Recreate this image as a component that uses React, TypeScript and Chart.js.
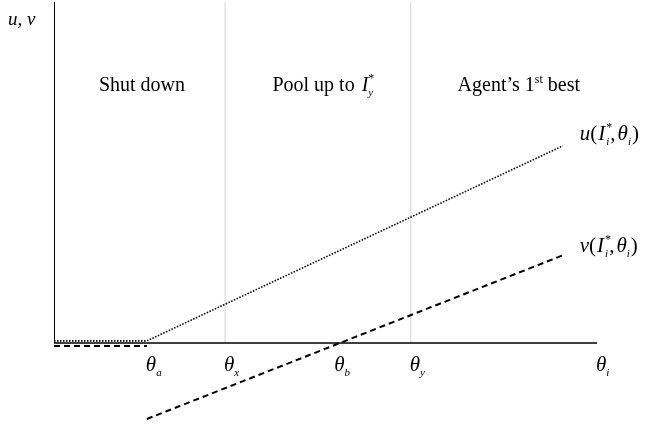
import React, { useEffect, useRef } from "react";
import { Chart, registerables } from "chart.js";

Chart.register(...registerables);

// Key positions on the θ axis (data units, 0..10)
const thetaA = 1.71;
const thetaX = 3.15;
const thetaB = 5.27;
const thetaY = 6.57;
const lineEnd = 9.37;
const axisEnd = 10;

// u(I*_i, θ_i): flat at zero, then rising from θa
const uX = [0, thetaA, lineEnd];
const uY = [0.06, 0.06, 5.78];
// v(I*_i, θ_i): flat part (shut down) and rising part crossing zero at θb
const vFlatX = [0, thetaA];
const vFlatY = [-0.09, -0.09];
const vX = [thetaA, lineEnd];
const vY = [-2.23, 2.57];

// Axes and region boundaries
const yAxisX = [0, 0];
const yAxisY = [0, 10];
const xAxisX = [0, axisEnd];
const xAxisY = [0, 0];
const boundaryX = [thetaX, thetaY];
const boundaryTop = 10;

// Labels
const tickPositions = [thetaA, thetaX, thetaB, thetaY, axisEnd];
const tickSubs = ["a", "x", "b", "y", "i"];
const regionNames = ["Shut down", "Pool up to", "Agent’s 1"];
const regionCenters = [1.62, 4.95, 8.56];
const regionBaseline = 7.39;
const yAxisTitle = "u, v";

const FONT = '"Liberation Serif", "Times New Roman", serif';

type Run = { t: string; it?: boolean; sz?: number; dy?: number; noAdv?: boolean; pad?: number };

function font(r: Run) {
  return `${r.it ? "italic " : ""}${r.sz || 20}px ${FONT}`;
}

function runsWidth(ctx: CanvasRenderingContext2D, runs: Run[]) {
  let w = 0;
  for (const r of runs) {
    ctx.font = font(r);
    if (!r.noAdv) w += ctx.measureText(r.t).width + (r.pad || 0);
  }
  return w;
}

function drawRuns(
  ctx: CanvasRenderingContext2D,
  runs: Run[],
  x: number,
  y: number,
  align: "left" | "center" = "left"
) {
  let cx = align === "center" ? x - runsWidth(ctx, runs) / 2 : x;
  ctx.textAlign = "left";
  ctx.textBaseline = "alphabetic";
  ctx.fillStyle = "#000";
  for (const r of runs) {
    ctx.font = font(r);
    ctx.fillText(r.t, cx, y + (r.dy || 0));
    if (!r.noAdv) cx += ctx.measureText(r.t).width + (r.pad || 0);
  }
}

const pts = (xs: number[], ys: number[]) => xs.map((x, i) => ({ x, y: ys[i] }));

const labelPlugin = {
  id: "labels",
  afterDraw(chart: any) {
    const ctx: CanvasRenderingContext2D = chart.ctx;
    const xs = chart.scales.x;
    const ys = chart.scales.y;
    const px = (v: number) => xs.getPixelForValue(v);
    const py = (v: number) => ys.getPixelForValue(v);
    ctx.save();

    // y axis title
    drawRuns(ctx, [{ t: yAxisTitle, it: true, sz: 19 }], 8, 25);

    // region labels
    const yb = py(regionBaseline);
    drawRuns(ctx, [{ t: regionNames[0] }], px(regionCenters[0]), yb, "center");
    drawRuns(
      ctx,
      [
        { t: regionNames[1] + " ", pad: 2 },
        { t: "I", it: true },
        { t: "*", sz: 12, dy: -9, noAdv: true },
        { t: "y", it: true, sz: 11, dy: 5 },
      ],
      px(regionCenters[1]),
      yb,
      "center"
    );
    drawRuns(
      ctx,
      [{ t: regionNames[2] }, { t: "st", sz: 12, dy: -8 }, { t: " best" }],
      px(regionCenters[2]),
      yb,
      "center"
    );

    // θ tick labels
    const tb = py(0) + 28;
    const shifts = [0, 0, -5, 0, 0];
    tickPositions.forEach((v, i) => {
      drawRuns(
        ctx,
        [
          { t: "θ", it: true, sz: 21 },
          { t: tickSubs[i], it: true, sz: 11, dy: 5 },
        ],
        px(v) - 1 + shifts[i],
        tb
      );
    });

    // curve labels
    const curveLabel = (name: string): Run[] => [
      { t: name, it: true, sz: 21 },
      { t: "(", sz: 21, pad: 1 },
      { t: "I", it: true, sz: 21, pad: 1 },
      { t: "*", sz: 12, dy: -9, noAdv: true },
      { t: "i", it: true, sz: 11, dy: 5, pad: 1 },
      { t: ",", sz: 21, pad: 2 },
      { t: "θ", it: true, sz: 21 },
      { t: "i", it: true, sz: 11, dy: 5, pad: 1 },
      { t: ")", sz: 21 },
    ];
    const lx = px(lineEnd) + 17;
    drawRuns(ctx, curveLabel("u"), lx, py(uY[uY.length - 1]) - 6);
    drawRuns(ctx, curveLabel("v"), lx, py(vY[vY.length - 1]) - 3);

    ctx.restore();
  },
};

export default function App() {
  const ref = useRef<HTMLCanvasElement>(null);
  useEffect(() => {
    if (!ref.current) return;
    const base = { showLine: true, pointRadius: 0, fill: false, tension: 0 };
    const chart = new Chart(ref.current, {
      type: "scatter",
      data: {
        datasets: [
          { ...base, data: pts(uX, uY), borderColor: "#000", borderWidth: 1.6, borderDash: [1.5, 1.5], order: 1 },
          { ...base, data: pts(vFlatX, vFlatY), borderColor: "#000", borderWidth: 2, borderDash: [6, 4], order: 1 },
          { ...base, data: pts(vX, vY), borderColor: "#000", borderWidth: 2, borderDash: [6, 4], order: 1 },
          { ...base, data: pts(yAxisX, yAxisY), borderColor: "#000", borderWidth: 2, order: 2 },
          { ...base, data: pts(xAxisX, xAxisY), borderColor: "#000", borderWidth: 1.5, order: 2 },
          ...boundaryX.map((b) => ({
            ...base,
            data: pts([b, b], [0, boundaryTop]),
            borderColor: "#d4d4d4",
            borderWidth: 1,
            order: 3,
          })),
        ],
      },
      options: {
        animation: false,
        responsive: false,
        devicePixelRatio: 1,
        layout: { padding: { left: 54, right: 48, top: 2, bottom: 5 } },
        plugins: { legend: { display: false }, tooltip: { enabled: false } },
        scales: {
          x: { type: "linear", min: 0, max: 10, display: false },
          y: { type: "linear", min: -2.26, max: 10, display: false },
        },
      },
      plugins: [labelPlugin],
    });
    return () => chart.destroy();
  }, []);
  return (
    <div style={{ position: "absolute", left: 0, top: 0, width: 645, height: 425, background: "#fff" }}>
      <canvas ref={ref} width={645} height={425} />
    </div>
  );
}
